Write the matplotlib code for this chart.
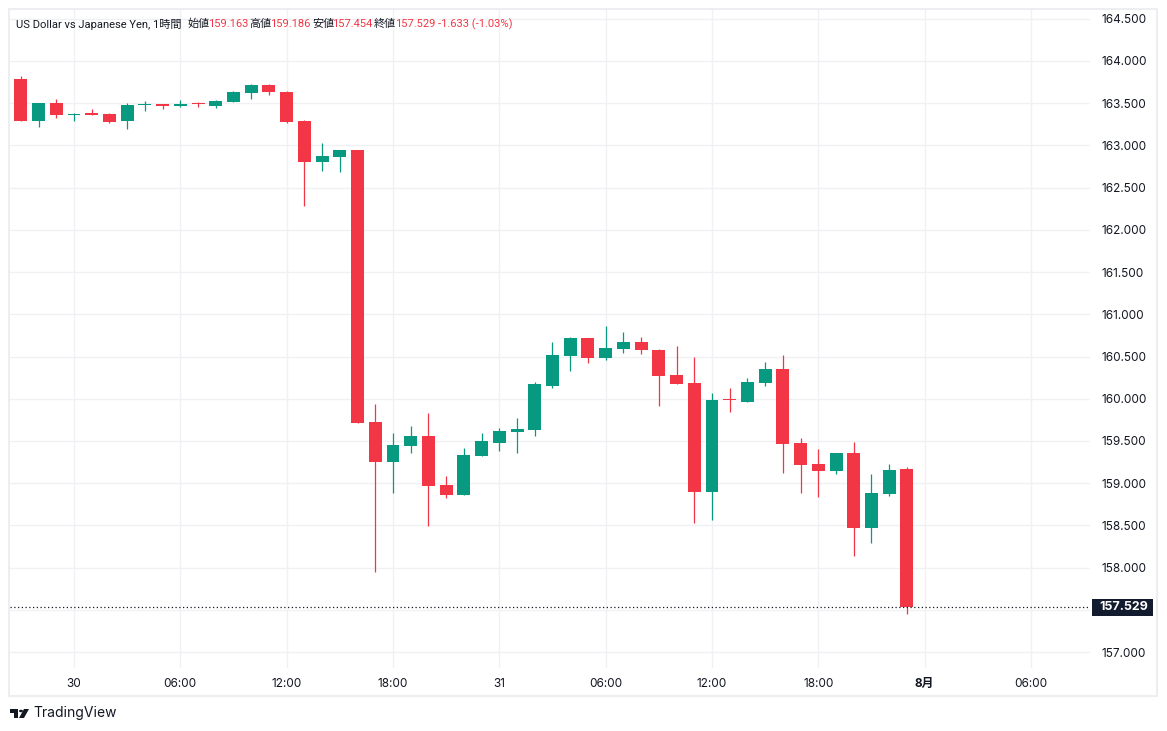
import matplotlib
matplotlib.use("Agg")
import matplotlib.pyplot as plt
from matplotlib.patches import Rectangle, Polygon, Circle

# hourly candles, hour offset relative to 30 Jul 00:00
hours = list(range(-3, 48))
opens = [163.787, 163.289, 163.503, 163.360, 163.372, 163.372, 163.289, 163.480, 163.491, 163.467,
         163.495, 163.467, 163.514, 163.621, 163.716, 163.633, 163.289, 162.804, 162.863, 162.946,
         159.724, 159.254, 159.440, 159.558, 158.978, 158.863, 159.325, 159.479, 159.610, 159.633,
         160.150, 160.506, 160.719, 160.482, 160.589, 160.672, 160.577, 160.281, 160.186, 158.895,
         159.990, 159.961, 160.186, 160.352, 159.476, 159.227, 159.144, 159.357, 158.469, 158.871,
         159.163]
highs = [163.826, 163.503, 163.550, 163.388, 163.431, 163.380, 163.503, 163.526, 163.495, 163.538,
         163.514, 163.538, 163.640, 163.728, 163.728, 163.645, 163.300, 163.029, 162.950, 162.950,
         159.937, 159.594, 159.677, 159.831, 159.085, 159.416, 159.594, 159.653, 159.772, 160.198,
         160.672, 160.731, 160.725, 160.861, 160.790, 160.731, 160.589, 160.625, 160.494, 160.068,
         160.127, 160.245, 160.435, 160.518, 159.535, 159.404, 159.360, 159.487, 159.108, 159.227,
         159.186]
lows = [163.289, 163.222, 163.328, 163.289, 163.360, 163.266, 163.195, 163.408, 163.431, 163.460,
        163.455, 163.443, 163.510, 163.550, 163.597, 163.270, 162.283, 162.697, 162.685, 159.716,
        157.951, 158.887, 159.361, 158.496, 158.828, 158.860, 159.320, 159.384, 159.361, 159.562,
        160.131, 160.332, 160.423, 160.459, 160.542, 160.530, 159.914, 160.174, 158.532, 158.563,
        159.843, 159.958, 160.154, 159.120, 158.883, 158.836, 159.108, 158.137, 158.291, 158.848,
        157.454]
closes = [163.289, 163.503, 163.360, 163.372, 163.365, 163.277, 163.479, 163.491, 163.467, 163.491,
          163.488, 163.526, 163.633, 163.716, 163.633, 163.277, 162.804, 162.875, 162.946, 159.716,
          159.254, 159.452, 159.558, 158.970, 158.863, 159.333, 159.499, 159.618, 159.641, 160.174,
          160.518, 160.719, 160.482, 160.601, 160.672, 160.577, 160.269, 160.174, 158.895, 159.985,
          159.980, 160.198, 160.352, 159.464, 159.215, 159.144, 159.357, 158.469, 158.883, 159.156,
          157.529]

tick_hours = [0, 6, 12, 18, 24, 30, 36, 42, 48, 54]
tick_labels = ["30", "06:00", "12:00", "18:00", "31", "06:00", "12:00", "18:00", "8月", "06:00"]
price_ticks = [157.0 + 0.5 * i for i in range(16)]
last_price = 157.529
change, change_pct = -1.633, -1.03

UP = "#089981"
DOWN = "#F23645"
TXT = "#131722"
GRID = "#f0f1f4"

plt.rcParams["font.family"] = ["Inter", "Noto Sans CJK JP", "DejaVu Sans"]

W, H = 1167, 731
fig = plt.figure(figsize=(W / 100, H / 100), dpi=100)
fig.patch.set_facecolor("white")

# chart frame
fig.patches.append(Rectangle((9 / W, 1 - 696 / H), (1157 - 9) / W, (696 - 9) / H,
                             transform=fig.transFigure, fill=False,
                             edgecolor="#eceef2", linewidth=1.5))

ax = fig.add_axes([10 / W, 1 - 668 / H, (1090 - 10) / W, (668 - 10) / H])
ax.set_xlim(-3.61, 57.33)
ax.set_ylim(156.811, 164.604)
for s in ax.spines.values():
    s.set_visible(False)

# the 157.500 label sits under the last-price tag, so leave it blank
ax.set_yticks(price_ticks)
ax.set_yticklabels(["" if abs(p - last_price) < 0.1 else f"{p:.3f}" for p in price_ticks])
ax.yaxis.tick_right()
ax.tick_params(axis="y", length=0, pad=8, labelsize=8.5, labelcolor=TXT)
for lbl in ax.get_yticklabels():
    lbl.set_horizontalalignment("left")

ax.set_xticks(tick_hours)
ax.set_xticklabels(tick_labels)
ax.tick_params(axis="x", length=0, pad=7, labelsize=8.5, labelcolor=TXT)
for lbl in ax.get_xticklabels():
    if lbl.get_text() == "8月":
        lbl.set_fontweight("bold")

ax.grid(True, color=GRID, linewidth=1.0)
ax.set_axisbelow(True)

body_w = 0.73
for h, o, hi, lo, c in zip(hours, opens, highs, lows, closes):
    col = UP if c >= o else DOWN
    ax.vlines(h, lo, hi, color=col, linewidth=0.9, zorder=2)
    bottom = min(o, c)
    height = max(abs(c - o), 0.014)
    ax.bar(h, height, width=body_w, bottom=bottom, color=col, linewidth=0, zorder=3)

# last price line and tag
ax.axhline(last_price, color=TXT, linestyle=(0, (1, 2)), linewidth=0.9, zorder=4)
tag_y = ax.transData.transform((0, last_price))[1] / H
fig.patches.append(Rectangle((1092 / W, tag_y - 8.5 / H), 61 / W, 17 / H,
                             transform=fig.transFigure, facecolor="#131c2e", edgecolor="none"))
fig.text(1099 / W, tag_y, f"{last_price:.3f}", ha="left", va="center", color="white",
         fontsize=9, fontweight="bold")

# header legend
header = [
    (16, "US Dollar vs Japanese Yen, 1時間", TXT),
    (188, "始値", TXT), (208, f"{opens[-1]:.3f}", DOWN),
    (249, "高値", TXT), (270, f"{highs[-1]:.3f}", DOWN),
    (312, "安値", TXT), (332, f"{lows[-1]:.3f}", DOWN),
    (374, "終値", TXT), (395, f"{closes[-1]:.3f}", DOWN),
    (438, f"{change:.3f} ({change_pct:.2f}%)", DOWN),
]
for x, s, col in header:
    fig.text(x / W, 1 - 24 / H, s, ha="left", va="center", fontsize=8.0, color=col,
             family=["Roboto", "Noto Sans CJK JP", "DejaVu Sans"])

# TradingView logo
fig.patches.append(Rectangle((10 / W, 1 - 713 / H), 8 / W, 4 / H, transform=fig.transFigure,
                             facecolor=TXT, edgecolor="none"))
fig.patches.append(Rectangle((14 / W, 1 - 718 / H), 4 / W, 9 / H, transform=fig.transFigure,
                             facecolor=TXT, edgecolor="none"))
fig.patches.append(Circle((21 / W, 1 - 711 / H), 2 / W, transform=fig.transFigure,
                          facecolor=TXT, edgecolor="none"))
fig.patches.append(Polygon([(24 / W, 1 - 709 / H), (29 / W, 1 - 709 / H), (24 / W, 1 - 718 / H),
                            (19 / W, 1 - 718 / H)], closed=True, transform=fig.transFigure,
                           facecolor=TXT, edgecolor="none"))
fig.text(33 / W, 1 - 713 / H, "TradingView", ha="left", va="center", fontsize=10, color=TXT)

fig.savefig("out.png", dpi=100, facecolor="white")
